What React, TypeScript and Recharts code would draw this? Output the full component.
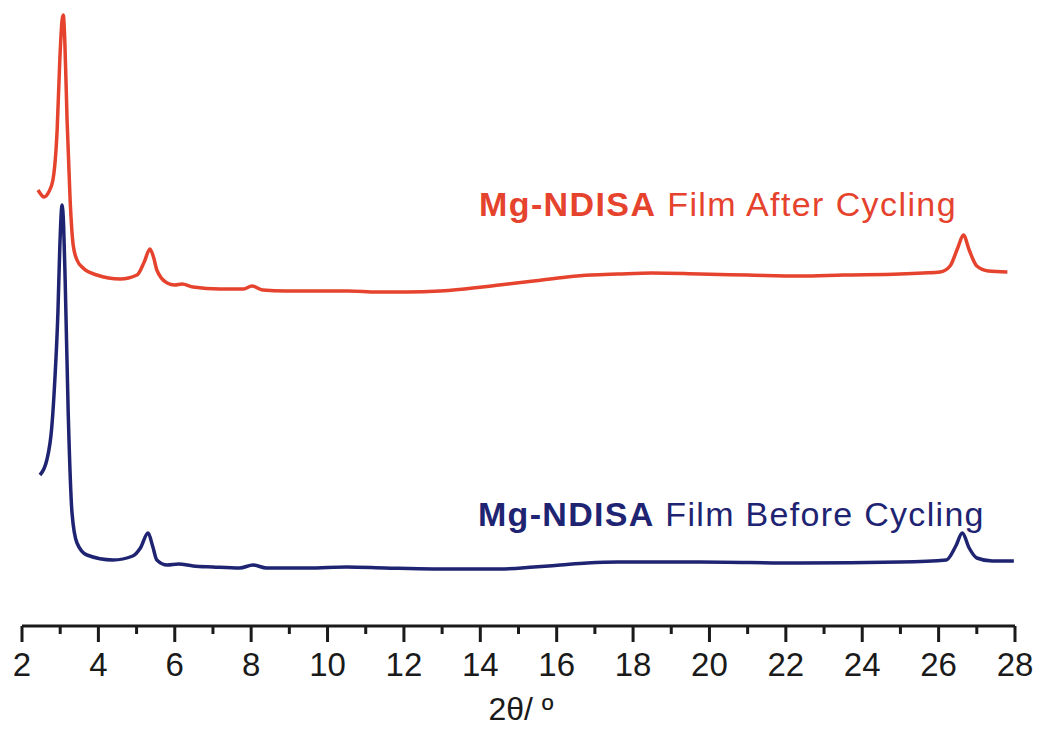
import { LineChart, Line, XAxis, YAxis } from "recharts";

// 2θ positions (degrees) and intensities (arbitrary units, offset traces)
const afterTheta = [
  2.42, 2.58, 2.7, 2.81, 2.92, 2.99, 3.05, 3.08, 3.12, 3.18, 3.26, 3.34, 3.44, 3.6, 3.96, 4.57, 5.01, 5.2,
  5.35, 5.45, 5.53, 5.8, 6.0, 6.19, 6.48, 7.18, 7.8, 8.02, 8.3, 8.9, 9.8, 10.54, 11.3, 12.08, 12.95, 14.5,
  15.4, 16.27, 16.9, 17.6, 18.5, 19.75, 21, 22.37, 23.5, 24.99, 25.6, 26.04, 26.3, 26.5, 26.65, 26.8,
  27.0, 27.3, 27.8,
];
const afterIntensity = [
  436, 429, 434, 446, 496, 566, 606, 611, 586, 506, 426, 381, 366, 358, 351, 347, 351, 364,
  377, 368, 356, 343, 341, 342, 339, 337, 337, 340, 336, 335, 335, 335, 334, 334, 335, 341,
  345, 349, 351, 352, 353, 352, 351, 350, 351, 352, 353, 354, 360, 378, 391, 376,
  360, 355, 354,
];

const beforeTheta = [
  2.47, 2.65, 2.78, 2.86, 2.94, 2.99, 3.05, 3.09, 3.13, 3.21, 3.31, 3.44, 3.7, 4.38, 4.9, 5.1, 5.3, 5.42,
  5.53, 5.8, 6.1, 6.48, 7.0, 7.7, 8.05, 8.4, 9.5, 10.5, 11.5, 12.76, 14.5, 15.4, 16.1, 16.8, 17.6, 19.75,
  22.37, 24.99, 26.2, 26.45, 26.62, 26.8, 27.0, 27.4, 27.97,
];
const beforeIntensity = [
  151, 166, 199, 246, 313, 379, 421, 400, 346, 213, 113, 83, 71, 66, 70, 78, 93, 80,
  66, 61, 62, 60, 59, 58, 61, 58, 58, 59, 58, 57, 57, 59, 61, 63, 64, 64,
  63, 64, 66, 80, 93, 78, 68, 65, 65,
];

const xTicks = [2, 3, 4, 5, 6, 7, 8, 9, 10, 11, 12, 13, 14, 15, 16, 17, 18, 19, 20, 21, 22, 23, 24, 25, 26, 27, 28];

const afterData = afterTheta.map((t, i) => ({ theta: t, y: afterIntensity[i] }));
const beforeData = beforeTheta.map((t, i) => ({ theta: t, y: beforeIntensity[i] }));

const RED = "#e5432d";
const BLUE = "#1f2472";
const INK = "#1a1a1a";
const FONT = "Liberation Sans, Arial, sans-serif";

const AxisTick = (props: any) => {
  const { x, y, payload } = props;
  const major = payload.value % 2 === 0;
  return (
    <g>
      <line x1={x} x2={x} y1={y} y2={y + (major ? 16 : 8)} stroke={INK} strokeWidth={3} />
      {major && (
        <text x={x} y={y + 50} textAnchor="middle" fill={INK} style={{ fontFamily: FONT, fontSize: 33 }}>
          {payload.value}
        </text>
      )}
    </g>
  );
};

export default function App() {
  return (
    <div style={{ position: "relative", width: 1044, height: 729, background: "#fff", fontFamily: FONT }}>
      <style>{"body{margin:0}"}</style>
      <LineChart width={1044} height={729} margin={{ top: 0, right: 29, bottom: 0, left: 22 }}>
        <XAxis
          dataKey="theta"
          type="number"
          domain={[2, 28]}
          ticks={xTicks}
          interval={0}
          allowDataOverflow
          height={103}
          axisLine={{ stroke: INK, strokeWidth: 3 }}
          tickLine={false}
          tickSize={0}
          tickMargin={0}
          tick={<AxisTick />}
        />
        <YAxis hide type="number" domain={[0, 626]} />
        <Line
          data={afterData}
          dataKey="y"
          type="monotone"
          stroke={RED}
          strokeWidth={3.5}
          dot={false}
          isAnimationActive={false}
        />
        <Line
          data={beforeData}
          dataKey="y"
          type="monotone"
          stroke={BLUE}
          strokeWidth={3.5}
          dot={false}
          isAnimationActive={false}
        />
      </LineChart>
      <svg
        width={1044}
        height={729}
        style={{ position: "absolute", left: 0, top: 0, pointerEvents: "none", fontFamily: FONT }}
      >
        <text x={479} y={216} fill={RED} style={{ fontSize: 34, letterSpacing: 1.4 }}>
          <tspan fontWeight="bold">Mg-NDISA</tspan>
          <tspan> Film After Cycling</tspan>
        </text>
        <text x={478} y={526} fill={BLUE} style={{ fontSize: 34, letterSpacing: 1.3 }}>
          <tspan fontWeight="bold">Mg-NDISA</tspan>
          <tspan> Film Before Cycling</tspan>
        </text>
        <text x={521} y={720} textAnchor="middle" fill={INK} style={{ fontSize: 32 }}>
          2θ/ º
        </text>
      </svg>
    </div>
  );
}
